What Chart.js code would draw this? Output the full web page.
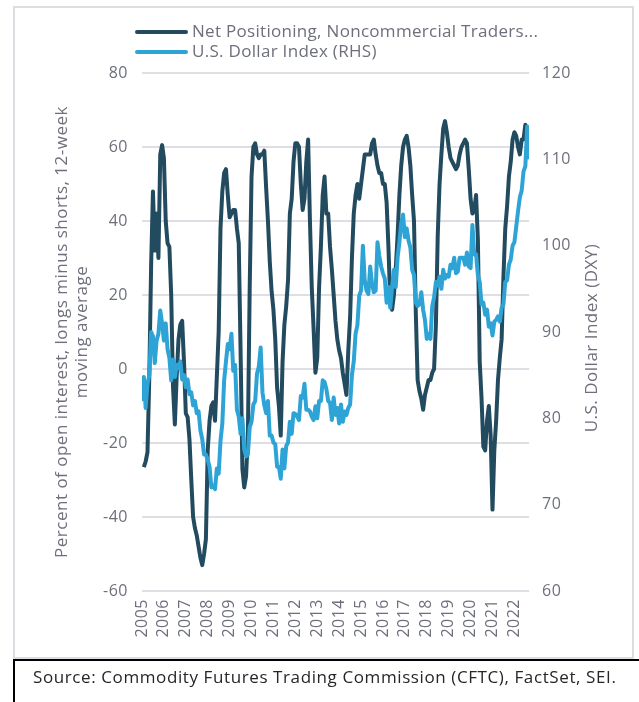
<!DOCTYPE html>
<html>
<head>
<meta charset="utf-8">
<script src="https://cdn.jsdelivr.net/npm/chart.js@4.4.1/dist/chart.umd.min.js"></script>
<style>
    body { margin: 0; background: #fff; font-family: "Open Sans", sans-serif; }
    #page { position: relative; width: 639px; height: 702px; overflow: hidden; }
    #frame { position: absolute; left: 13px; top: 6px; width: 617px; height: 649px; border: 2px solid #dcdce2; }
    #chartCanvas { position: absolute; left: 0; top: 0; }
    .swatch { position: absolute; left: 135px; width: 53px; height: 4px; border-radius: 2px; }
    .legText { position: absolute; left: 192px; font-size: 17px; letter-spacing: 0.3px; line-height: 20px; color: #6d707b; white-space: nowrap; }
    #source { position: absolute; left: 13px; top: 659px; width: 700px; height: 80px; border: 2px solid #000; }
    #sourceText { position: absolute; left: 33px; top: 666px; font-size: 17px; letter-spacing: 0.6px; line-height: 22px; color: #262626; white-space: nowrap; }
</style>
</head>
<body>
<div id="page">
    <div id="frame"></div>
    <canvas id="chartCanvas" width="639" height="660"></canvas>

    <div class="swatch" style="top:30px; background:#234b5f;"></div>
    <div class="legText" style="top:21px;">Net Positioning, Noncommercial Traders...</div>
    <div class="swatch" style="top:50px; background:#2ea4d6;"></div>
    <div class="legText" style="top:41px;">U.S. Dollar Index (RHS)</div>

    <div id="source"></div>
    <div id="sourceText">Source: Commodity Futures Trading Commission (CFTC), FactSet, SEI.</div>
</div>

<script>
    // monthly values, Jan 2005 onwards
    const START_YEAR = 2005;
    const YEARS = [2005, 2006, 2007, 2008, 2009, 2010, 2011, 2012, 2013, 2014, 2015, 2016, 2017, 2018, 2019, 2020, 2021, 2022];

    // Net positioning, noncommercial traders (% of open interest, 12-week avg)
    const NET_POSITIONING = [
        null, -26.5, -25, -22.5, -2, 28, 48, 32, 42, 30, 58, 60.5,      // 2005
        57, 40, 34, 33, 20, -5, -15, -2, 8, 12, 13, 2,                  // 2006
        -12, -13, -19, -30, -40, -43, -45, -48, -51, -53, -50, -46,     // 2007
        -22, -14, -10, -9, -14, -2, 10, 38, 48, 53, 54, 47,             // 2008
        41, 42, 43, 43, 38, 34, 5, -27, -32, -29, -18, 22,              // 2009
        52, 60, 61, 58, 57, 58, 58, 59, 49, 40, 29, 21,                 // 2010
        16, 8, -5, -10, -18, 2, 12, 17, 24, 42, 46, 56,                 // 2011
        61, 61, 60, 50, 43, 46, 56, 62, 40, 22, 11, -1,                 // 2012
        3, 22, 33, 47, 52, 42, 42, 33, 27, 20, 13, 8,                   // 2013
        5, 3, -1, -4, -7, 5, 14, 30, 42, 47, 50, 46,                    // 2014
        50, 54, 58, 58, 58, 58, 61, 62, 58, 55, 53, 53,                 // 2015
        50, 50, 45, 33, 18, 16, 20, 27, 36, 47, 55, 60,                 // 2016
        62, 63, 60, 55, 47, 40, 15, -3, -6, -8, -11, -7,                // 2017
        -5, -3, -3, -1, 0, 12, 36, 50, 58, 65, 67, 64,                  // 2018
        60, 57, 56, 55, 54, 55, 58, 60, 61, 62, 61, 54,                 // 2019
        46, 42, 43, 47, 35, 2, -8, -21, -22, -14, -10, -18,             // 2020
        -38, -22, -14, -3, 3, 8, 25, 38, 44, 52, 56, 62,                // 2021
        64, 63, 60, 58, 62, 62, 66, 64, null                            // 2022
    ];

    // U.S. Dollar Index (DXY), right axis
    const DOLLAR_INDEX = [
        82, 84.8, 81.2, 84, 85, 90, 89.5, 86.4, 89, 89.8, 92.5, 91,                  // 2005
        89, 91, 88, 87, 84.4, 86.8, 84.8, 86.2, 85.8, 86.6, 84.5, 85,                // 2006
        83.6, 84.5, 82.8, 83, 81.5, 82, 80.6, 80.8, 78.6, 77.6, 75.8, 75.8,          // 2007
        75.2, 74.4, 72, 72.2, 71.8, 74.2, 73.6, 77.4, 79.4, 84.4, 86.6, 88.6,        // 2008
        88, 89.8, 85.5, 86.2, 81, 80.2, 78.2, 80, 76.4, 75.6, 75.8, 79,              // 2009
        79.6, 81.6, 82, 85.2, 86, 88.2, 83, 81.5, 80.6, 82, 78, 78,                  // 2010
        77.2, 77, 74.4, 74.4, 73, 76.4, 74.2, 76.8, 77.2, 79.6, 78.2, 80.6,          // 2011
        80.5, 80.2, 79.8, 82.6, 82.4, 84, 81, 81, 80.8, 80.2, 79.8, 81.4,            // 2012
        80, 82, 82, 84.4, 84.2, 83.4, 82, 81.8, 79.8, 82.4, 80.4, 81.2,              // 2013
        79.4, 81.6, 79.6, 80.8, 80.4, 81.2, 81.6, 85, 86.6, 89.8, 90.8, 94.2,        // 2014
        94.8, 100, 96, 94.8, 94.4, 97.6, 95.6, 94.6, 94.8, 100.4, 98.8, 97.6,        // 2015
        96.8, 96.2, 93.4, 95.2, 92.8, 95.2, 97.2, 95.2, 98.6, 100.4, 102.6, 103.6,   // 2016
        101, 102, 100.6, 99.8, 97.2, 96.6, 93.4, 93, 93.2, 94.6, 92.6, 91.4,         // 2017
        89.2, 89.8, 89.2, 93, 94, 95.8, 95.4, 96.4, 95, 97.2, 96.2, 96.6,            // 2018
        96.4, 97.8, 97.4, 98.6, 96.8, 97, 98.6, 98.6, 98.6, 97.8, 99.2, 97.6,        // 2019
        97.4, 102.4, 99, 99, 96.6, 95.8, 93.2, 93.4, 92, 92.6, 90.6, 91,             // 2020
        89.6, 91.2, 91.4, 91.8, 91.2, 92.8, 93.2, 95.8, 96, 97.8, 98.4, 100,         // 2021
        100.4, 102.2, 104, 105.6, 106.4, 108.6, 109.2, 113.8, 110                    // 2022
    ];

    const TEXT_GRAY = '#6d707b';
    const TICK_FONT = { family: '"Open Sans", sans-serif', size: 16 };

    function toPoints(values) {
        return values.map((v, i) => ({ x: START_YEAR + i / 12, y: v }));
    }

    // the reference text is slightly letter-spaced
    const spacing = {
        id: 'spacing',
        beforeDraw(chart) {
            chart.ctx.letterSpacing = '0.5px';
        }
    };

    // right axis title reads bottom-to-top, chart.js would rotate it the other way
    const rightTitle = {
        id: 'rightTitle',
        afterDraw(chart) {
            const ctx = chart.ctx;
            const area = chart.chartArea;
            ctx.save();
            ctx.translate(chart.scales.y1.right - 47, (area.top + area.bottom) / 2 + 6);
            ctx.rotate(-Math.PI / 2);
            ctx.font = '17px "Open Sans", sans-serif';
            ctx.fillStyle = TEXT_GRAY;
            ctx.textAlign = 'center';
            ctx.textBaseline = 'middle';
            ctx.fillText('U.S. Dollar Index (DXY)', 0, 0);
            ctx.restore();
        }
    };

    const ctx = document.getElementById('chartCanvas');

    new Chart(ctx, {
        type: 'line',
        data: {
            datasets: [{
                label: 'U.S. Dollar Index (RHS)',
                data: toPoints(DOLLAR_INDEX),
                yAxisID: 'y1',
                borderColor: '#2ea4d6',
                borderWidth: 4,
                pointRadius: 0,
                borderJoinStyle: 'round',
                tension: 0
            }, {
                label: 'Net Positioning, Noncommercial Traders',
                data: toPoints(NET_POSITIONING),
                yAxisID: 'y',
                borderColor: '#234b5f',
                borderWidth: 4,
                pointRadius: 0,
                borderJoinStyle: 'round',
                tension: 0
            }]
        },
        options: {
            responsive: false,
            animation: false,
            events: [],
            layout: {
                padding: { top: 73, left: 0, right: 0, bottom: 0 }
            },
            plugins: {
                legend: { display: false },
                tooltip: { enabled: false }
            },
            scales: {
                x: {
                    type: 'linear',
                    min: START_YEAR,
                    max: START_YEAR + (DOLLAR_INDEX.length - 1) / 12,
                    afterBuildTicks: (scale) => {
                        scale.ticks = YEARS.map(v => ({ value: v }));
                    },
                    afterFit: (scale) => { scale.height = 69; },
                    grid: { display: false, drawTicks: false },
                    border: { display: false },
                    ticks: {
                        minRotation: 90,
                        maxRotation: 90,
                        padding: 8,
                        color: TEXT_GRAY,
                        font: TICK_FONT,
                        callback: (v) => String(v)
                    }
                },
                y: {
                    position: 'left',
                    min: -60,
                    max: 80,
                    afterFit: (scale) => { scale.width = 142; },
                    grid: { color: '#dedee4', lineWidth: 2, drawTicks: false },
                    border: { display: false },
                    ticks: { stepSize: 20, padding: 14, color: TEXT_GRAY, font: TICK_FONT },
                    title: {
                        display: true,
                        text: ['Percent of open interest, longs minus shorts, 12-week', 'moving average'],
                        color: TEXT_GRAY,
                        font: { family: '"Open Sans", sans-serif', size: 17, lineHeight: 1.2 },
                        padding: { top: 52, bottom: 0 }
                    }
                },
                y1: {
                    position: 'right',
                    min: 60,
                    max: 120,
                    afterFit: (scale) => { scale.width = 110; },
                    grid: { display: false, drawTicks: false },
                    border: { display: false },
                    ticks: { stepSize: 10, padding: 13, color: TEXT_GRAY, font: TICK_FONT }
                }
            }
        },
        plugins: [spacing, rightTitle]
    });
</script>
</body>
</html>
